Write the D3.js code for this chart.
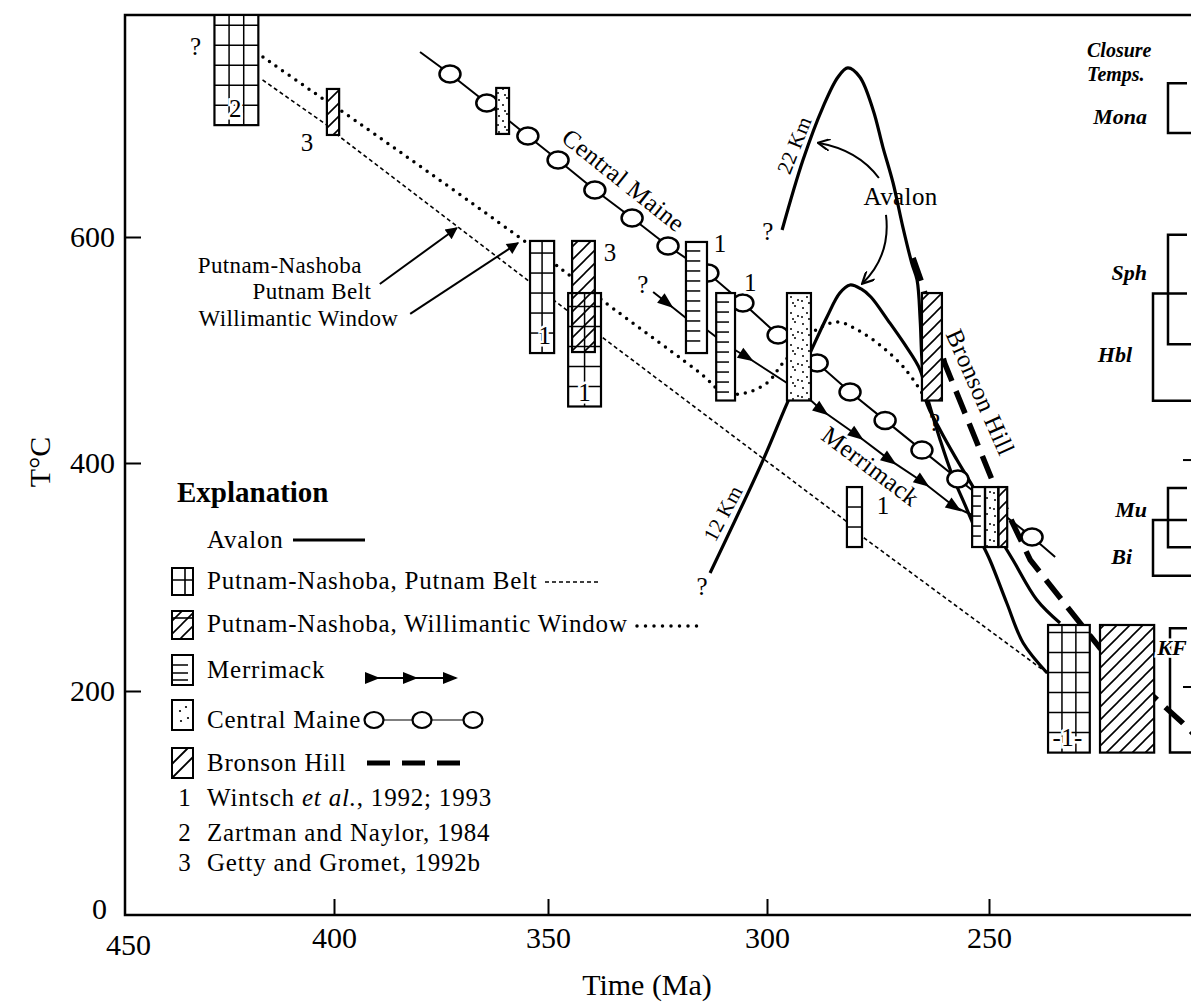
<!DOCTYPE html>
<html>
<head>
<meta charset="utf-8">
<title>Cooling paths</title>
<script src="https://cdn.jsdelivr.net/npm/d3@7/dist/d3.min.js"></script>
<style>
  body { margin: 0; background: #fff; }
  svg { display: block; font-family: "Liberation Serif", "Times New Roman", serif; }
  .axis text { font-size: 30px; font-family: "Liberation Serif", serif; fill: #000; }
  .axis line { stroke: #000; stroke-width: 2; }
  .lbl { font-size: 25px; letter-spacing: 0.4px; }
  .leg { font-size: 25px; letter-spacing: 0.8px; }
  .halo { stroke: #fff; stroke-width: 5px; paint-order: stroke; }
  .ital { font-style: italic; font-size: 22px; }
</style>
</head>
<body>
<svg id="chart" width="1191" height="1008"></svg>
<script>
// axis ticks
var timeTicks = [450, 400, 350, 300, 250];
var tempTicks = [0, 200, 400, 600];

// cooling paths [Ma, T]
var putnamBeltPath = [[417.1, 739], [401.7, 699], [398.6, 688.5], [354.2, 560.2], [337.7, 511.5], [282.5, 350], [278.4, 335], [236.9, 215.8]];
var willimanticPath = [[417, 759.3], [402.9, 723], [398.6, 712.4], [356.5, 599.1], [337.7, 544.2], [314.4, 476.8], [310.9, 464.6], [306.2, 461], [300, 470.8], [296.4, 488.5], [289, 517.7], [284, 524.8], [279.6, 517.7], [274, 502.6], [268.7, 482.3], [265.1, 462]];
var centralMaineStart = [379.9, 763.7];
var centralMaineCircles = [[372.9, 744.2], [364.3, 718.6], [354.7, 689.4], [347.7, 668.1], [339.3, 641.6], [330.8, 616.8], [322.6, 592], [313.5, 568.1], [305.5, 541.6], [297.5, 513.3], [288.7, 488.5], [281.3, 462.8], [273.4, 437.7], [265.1, 411.4], [257, 386], [240.3, 335.1]];
var centralMaineEnd = [235.1, 317.5];
var merrimackPath = [[326, 551.3], [322.8, 541.6], [318.5, 528.3], [313.7, 517.7], [311.6, 511.5], [307.3, 500], [304.6, 493.8], [295.5, 470.8], [290.1, 455.3], [287.6, 446.5], [279.7, 424.6], [272.3, 402.6], [264.9, 383.3], [257.7, 361.4], [253.8, 354.4]];
var merrimackArrows = [322.8, 304.6, 287.6, 279.7, 272.3, 264.9, 257.7];
var avalon22Km = [[296.6, 606.2], [291.9, 668.1], [287.4, 715], [284, 741.6], [281.8, 749.6], [279.1, 741.6], [276.1, 712.4], [273.9, 679.6], [271.6, 647.8], [269.4, 608.8], [267.4, 577], [266.2, 562], [265.5, 526.5], [265.1, 491.2], [264.2, 455.3], [261, 429.2], [257.2, 402.6], [253.2, 376.3], [248.6, 341.2], [244.6, 314.9], [239.2, 279.8], [234, 259.6]];
var avalon12Km = [[313, 303.5], [300.9, 402.6], [295.5, 452.6], [290.3, 497.3], [286.5, 529.2], [283.6, 550.4], [281.3, 557.5], [278.8, 554], [276.6, 546.9], [272.8, 526.5], [269.2, 506.2], [265.5, 482.3], [263.7, 455.3], [261, 420.4], [258.3, 389.5], [255.4, 363.2], [252.5, 336.8], [249.8, 314.9], [246, 277.2], [242.3, 242.1], [236.9, 215.8]];
var bronsonPath = [[267.1, 581.4], [265.1, 559.3], [260, 488.5], [249.3, 385.1], [240.7, 314.9], [229.5, 259.6], [225, 237.7], [206.5, 171.9], [203, 158]];

// age/temperature boxes [Ma old, Ma young, T low, T high]
var putnamBeltBoxes = [[428.6, 418.1, 699, 796.5], [354.2, 348.6, 497.3, 596.5], [345.4, 337.9, 450, 550.4], [282, 278.6, 326.3, 378.9], [236.7, 227.3, 145, 257.9]];
var willimanticBoxes = [[401.7, 398.8, 690.3, 731], [344.5, 339.3, 498.2, 596.5]];
var merrimackBoxes = [[318.5, 313.7, 497.3, 595.6], [311.6, 307.3, 455.3, 550.4], [253.8, 250.9, 326.3, 378.9]];
var centralMaineBoxes = [[362.1, 359.1, 691.2, 731.9], [295.5, 290.1, 455.3, 550.4], [250.9, 247.9, 326.3, 378.9]];
var bronsonBoxes = [[265.1, 260.6, 455.3, 550.4], [247.9, 245.9, 326.3, 378.9], [225, 212.8, 145, 257.9]];

// closure temperatures
var closureMinerals = ['Mona', 'Sph', 'Hbl', 'Mu', 'Bi', 'KF'];
var closureLow = [692, 505, 455, 326, 301, 145];
var closureHigh = [736, 602, 550, 378, 350, 255];
var closureLabelT = [706, 568, 495.6, 358.8, 317.5, 237.7];
var closureStubs = [402.6, 203.5];

// annotations [Ma, T, text]
var questionMarks = [[433.1, 768.1], [299.8, 604.4], [328.3, 557.5], [314.8, 291.2], [262.2, 435.4]];
var refNotes = [[423.6, 714.2, '2'], [406.4, 684.1, '3'], [335.8, 586.7, '3'], [350.7, 513.3, '1'], [341.6, 462.8, '1'], [310.7, 594.7, '1'], [303.8, 560.2, '1'], [273.8, 363.2, '1'], [232.3, 159.1, '-1-']];
var pathLabels = [[332.7, 650.4, 'Central Maine', 38.5], [276.6, 397.4, 'Merrimack', 37], [251.9, 462.8, 'Bronson Hill', 66], [293.9, 681.4, '22 Km', -68], [310.1, 356.1, '12 Km', -62]];
var avalonLabel = [269.9, 635.4];
var avalonArrows = [[[274.8, 652.2], [279.5, 677], [288.3, 683.2]], [[273.2, 619.5], [272.1, 584], [278.4, 559.3]]];
var putnamLabels = [[432.6, 575.3, 'Putnam-Nashoba'], [419.5, 552.2, 'Putnam Belt'], [432.4, 528.3, 'Willimantic Window']];
var putnamArrows = [[[389.3, 558.4], [371.3, 608]], [[382.2, 531.9], [357, 594.7]]];

// legend
var legendNames = ['Avalon', 'Putnam-Nashoba, Putnam Belt', 'Putnam-Nashoba, Willimantic Window', 'Merrimack', 'Central Maine', 'Bronson Hill'];
var refNumbers = ['1', '2', '3'];
var refAuthors = ['Wintsch ', 'Zartman and Naylor, 1984', 'Getty and Gromet, 1992b'];

var svg = d3.select('#chart');
var x = d3.scaleLinear().domain(timeTicks).range([125, 334, 548, 767, 989]);
var y = d3.scaleLinear().domain(tempTicks).range([915, 691, 463, 237]);

var defs = svg.append('defs');
defs.append('clipPath').attr('id', 'plotClip')
	.append('rect').attr('x', 125).attr('y', 15).attr('width', 1066).attr('height', 900);

var hatch = defs.append('pattern').attr('id', 'hatch')
	.attr('patternUnits', 'userSpaceOnUse').attr('width', 13).attr('height', 13);
hatch.append('path').attr('d', 'M-3,3 L3,-3 M0,13 L13,0 M10,16 L16,10')
	.attr('stroke', '#000').attr('stroke-width', 1.6);

var stip = defs.append('pattern').attr('id', 'stipple')
	.attr('patternUnits', 'userSpaceOnUse').attr('width', 16).attr('height', 16);
[[3, 4], [11, 2], [7, 9], [14, 12], [2, 13], [9, 15]].forEach(function(p) {
	stip.append('circle').attr('cx', p[0]).attr('cy', p[1]).attr('r', 1);
});

defs.append('marker').attr('id', 'headFill')
	.attr('viewBox', '0 0 10 10').attr('refX', 9).attr('refY', 5)
	.attr('markerWidth', 15).attr('markerHeight', 12).attr('markerUnits', 'userSpaceOnUse')
	.attr('orient', 'auto')
	.append('path').attr('d', 'M0,0 L10,5 L0,10 Z');
defs.append('marker').attr('id', 'headOpen')
	.attr('viewBox', '0 0 10 10').attr('refX', 9).attr('refY', 5)
	.attr('markerWidth', 14).attr('markerHeight', 12).attr('markerUnits', 'userSpaceOnUse')
	.attr('orient', 'auto')
	.append('path').attr('d', 'M0,0 L10,5 L0,10').attr('fill', 'none')
	.attr('stroke', '#000').attr('stroke-width', 1.8);

// axes
var xAxis = d3.axisBottom(x).tickValues(timeTicks).tickSize(-16).tickPadding(12);
var gx = svg.append('g').attr('class', 'axis').attr('transform', 'translate(0,915)').call(xAxis);
gx.select('.domain').remove();
var first = gx.selectAll('.tick').filter(function(d) { return d === 450; });
first.select('line').remove();
first.select('text').attr('transform', 'translate(3,7)');

var yAxis = d3.axisLeft(y).tickValues(tempTicks).tickSize(-16).tickPadding(10);
var gy = svg.append('g').attr('class', 'axis').attr('transform', 'translate(125,0)').call(yAxis);
gy.select('.domain').remove();
var zero = gy.selectAll('.tick').filter(function(d) { return d === 0; });
zero.select('line').remove();
zero.select('text').attr('transform', 'translate(-8,-6)');

svg.append('path').attr('d', 'M1191,15 H125 V915 H1191')
	.attr('fill', 'none').attr('stroke', '#000').attr('stroke-width', 2.5);

svg.append('text').attr('transform', 'translate(50,462) rotate(-90)')
	.attr('text-anchor', 'middle').attr('font-size', 30).text('T°C');
svg.append('text').attr('x', 647).attr('y', 995)
	.attr('text-anchor', 'middle').attr('font-size', 30).text('Time (Ma)');

var plot = svg.append('g').attr('clip-path', 'url(#plotClip)');

var line = d3.line()
	.x(function(d) { return x(d[0]); })
	.y(function(d) { return y(d[1]); });
var smooth = d3.line()
	.curve(d3.curveCatmullRom.alpha(0.5))
	.x(function(d) { return x(d[0]); })
	.y(function(d) { return y(d[1]); });

// paths
plot.append('path').datum(putnamBeltPath).attr('d', line)
	.attr('fill', 'none').attr('stroke', '#000').attr('stroke-width', 1.6)
	.attr('stroke-dasharray', '4,3');

plot.append('path').datum(willimanticPath).attr('d', smooth)
	.attr('fill', 'none').attr('stroke', '#000').attr('stroke-width', 3.5)
	.attr('stroke-linecap', 'round').attr('stroke-dasharray', '0,8');

[avalon22Km, avalon12Km].forEach(function(curve) {
	plot.append('path').datum(curve).attr('d', smooth)
		.attr('fill', 'none').attr('stroke', '#000').attr('stroke-width', 3.2);
});

plot.append('path').datum(bronsonPath).attr('d', line)
	.attr('fill', 'none').attr('stroke', '#000').attr('stroke-width', 5.5)
	.attr('stroke-dasharray', '24,11');

plot.append('path').datum(merrimackPath).attr('d', line)
	.attr('fill', 'none').attr('stroke', '#000').attr('stroke-width', 2);

merrimackArrows.forEach(function(ma) {
	var i = merrimackPath.findIndex(function(p) { return p[0] === ma; });
	var a = merrimackPath[Math.max(i - 1, 0)], b = merrimackPath[Math.min(i + 1, merrimackPath.length - 1)];
	var ang = Math.atan2(y(b[1]) - y(a[1]), x(b[0]) - x(a[0])) * 180 / Math.PI;
	plot.append('path')
		.attr('transform', 'translate(' + x(ma) + ',' + y(merrimackPath[i][1]) + ') rotate(' + ang + ')')
		.attr('d', 'M-8,-6 L8,0 L-8,6 Z');
});

var cmAll = [centralMaineStart].concat(centralMaineCircles, [centralMaineEnd]);
plot.append('path').datum(cmAll).attr('d', line)
	.attr('fill', 'none').attr('stroke', '#000').attr('stroke-width', 2);
plot.selectAll('ellipse.cm').data(centralMaineCircles).enter().append('ellipse')
	.attr('class', 'cm')
	.attr('cx', function(d) { return x(d[0]); })
	.attr('cy', function(d) { return y(d[1]); })
	.attr('rx', 10.5).attr('ry', 8.5)
	.attr('fill', '#fff').attr('stroke', '#000').attr('stroke-width', 2.5);

// boxes: white backgrounds, then textures, then outlines
var allBoxes = [].concat(
	putnamBeltBoxes.map(function(b) { return {b: b, kind: 'grid'}; }),
	willimanticBoxes.map(function(b) { return {b: b, kind: 'hatch'}; }),
	merrimackBoxes.map(function(b) { return {b: b, kind: 'ruler'}; }),
	centralMaineBoxes.map(function(b) { return {b: b, kind: 'stipple'}; }),
	bronsonBoxes.map(function(b) { return {b: b, kind: 'hatch'}; })
);
function geom(b) {
	return {x0: x(b[0]), x1: x(b[1]), y0: y(b[3]), y1: y(b[2])};
}
var boxG = plot.append('g');
allBoxes.forEach(function(o) {
	var g = geom(o.b);
	boxG.append('rect').attr('x', g.x0).attr('y', g.y0)
		.attr('width', g.x1 - g.x0).attr('height', g.y1 - g.y0).attr('fill', '#fff');
});
allBoxes.forEach(function(o) {
	var g = geom(o.b), w = g.x1 - g.x0;
	if (o.kind === 'hatch' || o.kind === 'stipple') {
		boxG.append('rect').attr('x', g.x0).attr('y', g.y0)
			.attr('width', w).attr('height', g.y1 - g.y0)
			.attr('fill', 'url(#' + o.kind + ')');
	} else if (o.kind === 'grid') {
		var n = Math.max(1, Math.round(w / 15));
		d3.range(1, n).forEach(function(k) {
			boxG.append('line').attr('x1', g.x0 + w * k / n).attr('x2', g.x0 + w * k / n)
				.attr('y1', g.y0).attr('y2', g.y1).attr('stroke', '#000').attr('stroke-width', 1.5);
		});
		for (var yy = g.y1 - 20; yy > g.y0 + 4; yy -= 20) {
			boxG.append('line').attr('x1', g.x0).attr('x2', g.x1).attr('y1', yy).attr('y2', yy)
				.attr('stroke', '#000').attr('stroke-width', 1.5);
		}
	} else if (o.kind === 'ruler') {
		for (var ry = g.y0 + 9; ry < g.y1 - 4; ry += 10) {
			boxG.append('line').attr('x1', g.x0).attr('x2', g.x0 + w * 0.68).attr('y1', ry).attr('y2', ry)
				.attr('stroke', '#000').attr('stroke-width', 1.5);
		}
	}
});
allBoxes.forEach(function(o) {
	var g = geom(o.b);
	boxG.append('rect').attr('x', g.x0).attr('y', g.y0)
		.attr('width', g.x1 - g.x0).attr('height', g.y1 - g.y0)
		.attr('fill', 'none').attr('stroke', '#000').attr('stroke-width', 2.2);
});

// closure temperature brackets
var brackets = svg.append('g');
closureMinerals.forEach(function(name, i) {
	var overlapsPrev = i > 0 && closureLow[i - 1] < closureHigh[i] && closureHigh[i - 1] > closureLow[i] && (i % 2 === 0 || name === 'Bi');
	var bx = overlapsPrev ? 1153 : (name === 'KF' ? 1170 : 1168);
	brackets.append('path')
		.attr('d', 'M1187,' + y(closureHigh[i]) + ' H' + bx + ' V' + y(closureLow[i]) + ' H1191')
		.attr('fill', 'none').attr('stroke', '#000').attr('stroke-width', 2.5);
	var t = brackets.append('text').attr('class', 'ital').attr('font-weight', 'bold')
		.attr('y', y(closureLabelT[i]) + 7).text(name);
	if (name === 'KF') {
		t.attr('x', bx + 2).attr('text-anchor', 'middle').attr('class', 'ital halo');
	} else {
		t.attr('x', bx - 21).attr('text-anchor', 'end');
	}
});
closureStubs.forEach(function(t) {
	brackets.append('line').attr('x1', 1183).attr('x2', 1191).attr('y1', y(t)).attr('y2', y(t))
		.attr('stroke', '#000').attr('stroke-width', 2);
});
brackets.append('text').attr('class', 'ital').style('font-size', '20px').attr('font-weight', 'bold')
	.attr('x', 1087).attr('y', 57).text('Closure');
brackets.append('text').attr('class', 'ital').style('font-size', '20px').attr('font-weight', 'bold')
	.attr('x', 1087).attr('y', 81).text('Temps.');

// annotations
var ann = svg.append('g');
questionMarks.forEach(function(q) {
	ann.append('text').attr('class', 'lbl').attr('text-anchor', 'middle')
		.attr('x', x(q[0])).attr('y', y(q[1]) + 8).text('?');
});
refNotes.forEach(function(r) {
	ann.append('text').attr('class', 'lbl halo').attr('text-anchor', 'middle')
		.attr('x', x(r[0])).attr('y', y(r[1]) + 9).text(r[2]);
});
pathLabels.forEach(function(p) {
	ann.append('text').attr('class', 'lbl')
		.style('font-size', p[2].indexOf('Km') > 0 ? '21px' : null)
		.attr('text-anchor', 'middle').attr('dy', '0.35em')
		.attr('transform', 'translate(' + x(p[0]) + ',' + y(p[1]) + ') rotate(' + p[3] + ')')
		.text(p[2]);
});
ann.append('text').attr('class', 'lbl').attr('text-anchor', 'middle')
	.attr('x', x(avalonLabel[0])).attr('y', y(avalonLabel[1]) + 8).text('Avalon');
avalonArrows.forEach(function(a) {
	ann.append('path')
		.attr('d', 'M' + x(a[0][0]) + ',' + y(a[0][1]) + ' Q' + x(a[1][0]) + ',' + y(a[1][1]) + ' ' + x(a[2][0]) + ',' + y(a[2][1]))
		.attr('fill', 'none').attr('stroke', '#000').attr('stroke-width', 2)
		.attr('marker-end', 'url(#headOpen)');
});
putnamLabels.forEach(function(p) {
	ann.append('text').attr('class', 'lbl').style('font-size', '23px')
		.attr('x', x(p[0])).attr('y', y(p[1]) + 8).text(p[2]);
});
putnamArrows.forEach(function(a) {
	ann.append('line')
		.attr('x1', x(a[0][0])).attr('y1', y(a[0][1])).attr('x2', x(a[1][0])).attr('y2', y(a[1][1]))
		.attr('stroke', '#000').attr('stroke-width', 2).attr('marker-end', 'url(#headFill)');
});

// legend
var leg = svg.append('g');
var rowY = [540, 581, 624, 670, 720, 763];
leg.append('text').attr('x', 177).attr('y', 502).attr('font-size', 29).attr('font-weight', 'bold').text('Explanation');
legendNames.forEach(function(name, i) {
	leg.append('text').attr('class', 'leg').attr('x', 207).attr('y', rowY[i] + 8).text(name);
});
// Avalon
leg.append('line').attr('x1', 293).attr('x2', 365).attr('y1', 540).attr('y2', 540)
	.attr('stroke', '#000').attr('stroke-width', 3);
// Putnam Belt
leg.append('rect').attr('x', 172).attr('y', 568).attr('width', 21).attr('height', 27)
	.attr('fill', '#fff').attr('stroke', '#000').attr('stroke-width', 2);
leg.append('path').attr('d', 'M185,568 V595 M172,580 H193').attr('stroke', '#000').attr('stroke-width', 1.6);
leg.append('line').attr('x1', 545).attr('x2', 600).attr('y1', 582).attr('y2', 582)
	.attr('stroke', '#000').attr('stroke-width', 1.6).attr('stroke-dasharray', '4,3');
// Willimantic
leg.append('rect').attr('x', 172).attr('y', 611).attr('width', 21).attr('height', 28)
	.attr('fill', 'url(#hatch)').attr('stroke', '#000').attr('stroke-width', 2);
leg.append('path').attr('d', 'M172,618 H193').attr('stroke', '#000').attr('stroke-width', 1.6);
leg.append('line').attr('x1', 637).attr('x2', 700).attr('y1', 626).attr('y2', 626)
	.attr('stroke', '#000').attr('stroke-width', 3.5).attr('stroke-linecap', 'round').attr('stroke-dasharray', '0,8.5');
// Merrimack
leg.append('rect').attr('x', 172).attr('y', 655).attr('width', 21).attr('height', 30)
	.attr('fill', '#fff').attr('stroke', '#000').attr('stroke-width', 2);
leg.append('path').attr('d', 'M172,665 H188 M172,673 H188 M172,680 H188').attr('stroke', '#000').attr('stroke-width', 1.6);
leg.append('line').attr('x1', 367).attr('x2', 456).attr('y1', 678).attr('y2', 678)
	.attr('stroke', '#000').attr('stroke-width', 2);
[380, 418, 458].forEach(function(tip) {
	leg.append('path').attr('d', 'M' + (tip - 15) + ',672 L' + tip + ',678 L' + (tip - 15) + ',684 Z');
});
// Central Maine
leg.append('rect').attr('x', 172).attr('y', 700).attr('width', 21).attr('height', 30)
	.attr('fill', '#fff').attr('stroke', '#000').attr('stroke-width', 2);
[[180, 711], [186, 707], [181, 721], [188, 718]].forEach(function(p) {
	leg.append('circle').attr('cx', p[0]).attr('cy', p[1]).attr('r', 1.1);
});
leg.append('line').attr('x1', 374).attr('x2', 473).attr('y1', 720).attr('y2', 720)
	.attr('stroke', '#000').attr('stroke-width', 1.2);
[374, 422, 473].forEach(function(cx) {
	leg.append('ellipse').attr('cx', cx).attr('cy', 720).attr('rx', 9.5).attr('ry', 8)
		.attr('fill', '#fff').attr('stroke', '#000').attr('stroke-width', 2.2);
});
// Bronson Hill
leg.append('rect').attr('x', 172).attr('y', 748).attr('width', 21).attr('height', 30)
	.attr('fill', '#fff').attr('stroke', '#000').attr('stroke-width', 2);
leg.append('path').attr('d', 'M172,778 L193,757 M172,764 L188,748').attr('stroke', '#000').attr('stroke-width', 1.8);
leg.append('line').attr('x1', 367).attr('x2', 460).attr('y1', 763).attr('y2', 763)
	.attr('stroke', '#000').attr('stroke-width', 5).attr('stroke-dasharray', '23,12');
// references
var refY = [798, 833, 863];
refNumbers.forEach(function(n, i) {
	leg.append('text').attr('class', 'leg').attr('x', 185).attr('y', refY[i] + 8)
		.attr('text-anchor', 'middle').text(n);
	var t = leg.append('text').attr('class', 'leg').attr('x', 207).attr('y', refY[i] + 8);
	t.append('tspan').text(refAuthors[i]);
	if (i === 0) {
		t.append('tspan').attr('font-style', 'italic').text('et al.');
		t.append('tspan').text(', 1992; 1993');
	}
});
</script>
</body>
</html>
